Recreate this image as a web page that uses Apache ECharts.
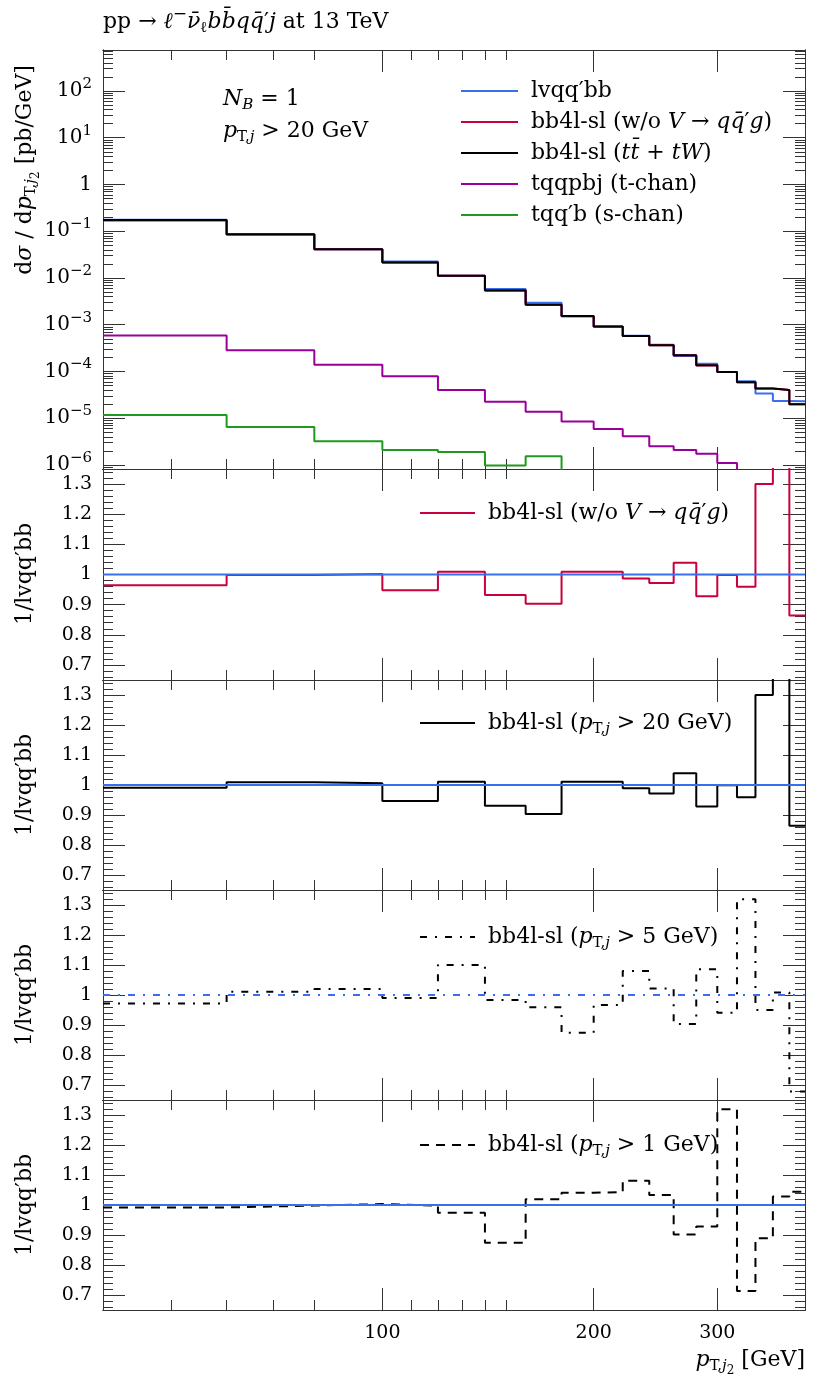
<!DOCTYPE html>
<html>
<head>
<meta charset="utf-8">
<script src="https://cdn.jsdelivr.net/npm/echarts@6.0.0/dist/echarts.min.js"></script>
<style>
html, body { margin: 0; padding: 0; background: #fff; }
#main { width: 830px; height: 1380px; }
</style>
</head>
<body>
<div id="main"></div>
<script>
// bin edges of the p_T,j2 histogram [GeV]
var binEdges = [40, 60, 80, 100, 120, 140, 160, 180, 200, 220, 240, 260, 280, 300, 320, 340, 360, 380, 400];

// top panel: dsigma/dpT [pb/GeV], one value per bin
var lvqqbb   = [0.1756, 0.0855, 0.0412, 0.0226, 0.0111, 0.0058, 0.00294, 0.00151, 0.00091, 0.000581, 0.000373, 0.000215, 0.000146, 9.8e-5, 6.15e-5, 3.4e-5, 2.34e-5, 2.3e-5];
var bb4lNoV  = [0.169, 0.0853, 0.0413, 0.0214, 0.0112, 0.0054, 0.00266, 0.00152, 0.00092, 0.000573, 0.000363, 0.000223, 0.000135, 9.8e-5, 5.9e-5, 4.3e-5, 4.0e-5, 2.0e-5];
var bb4lTtW  = [0.174, 0.0863, 0.0414, 0.0214, 0.0112, 0.0054, 0.00267, 0.00153, 0.00092, 0.000575, 0.000363, 0.000223, 0.000136, 9.8e-5, 5.9e-5, 4.3e-5, 4.0e-5, 2.0e-5];
var tChan    = [5.9e-4, 2.83e-4, 1.4e-4, 7.9e-5, 4.0e-5, 2.26e-5, 1.38e-5, 8.5e-6, 5.9e-6, 4.1e-6, 2.5e-6, 2.1e-6, 1.74e-6, 1.1e-6, 6e-7, 4e-7, 3e-7, 2e-7];
var sChan    = [1.17e-5, 6.5e-6, 3.2e-6, 2.1e-6, 1.9e-6, 9.7e-7, 1.54e-6, 5e-7, 4e-7, 3e-7, 2.5e-7, 2e-7, 1.8e-7, 1.5e-7, 1.2e-7, 1e-7, 9e-8, 8e-8];

// ratio panels (x / lvqq'bb)
var ratioNoV  = [0.964, 0.998, 1.002, 0.948, 1.009, 0.932, 0.903, 1.009, 1.009, 0.987, 0.972, 1.039, 0.928, 0.998, 0.959, 1.30, 1.60, 0.864];
var ratioPt20 = [0.991, 1.009, 1.006, 0.947, 1.011, 0.931, 0.903, 1.011, 1.011, 0.989, 0.972, 1.039, 0.928, 0.999, 0.959, 1.30, 1.70, 0.864];
var ratioPt5  = [0.972, 1.011, 1.02, 0.99, 1.10, 0.983, 0.959, 0.874, 0.967, 1.08, 1.022, 0.903, 1.086, 0.941, 1.319, 0.95, 1.008, 0.678];
var ratioPt1  = [0.992, 0.998, 1.003, 0.998, 0.974, 0.874, 1.019, 1.041, 1.043, 1.081, 1.033, 0.902, 0.928, 1.319, 0.713, 0.889, 1.028, 1.044];
var ratioRef  = [1, 1, 1, 1, 1, 1, 1, 1, 1, 1, 1, 1, 1, 1, 1, 1, 1, 1];

// ticks
var xMinorTicks = [50, 60, 70, 80, 110, 120, 130, 140, 150];
var xMajorTicks = [100, 200, 300];
var yDecades = [-6, -5, -4, -3, -2, -1, 0, 1, 2];
var ratioTicks = [0.7, 0.8, 0.9, 1, 1.1, 1.2, 1.3];

var Y_MIN = 8.2e-7, Y_MAX = 753;
var R_MIN = 0.65, R_MAX = 1.35;

var FONT = 'DejaVu Serif';
var TEXT = 22;
var BLUE = '#3a6ef0', RED = '#c8003c', PURPLE = '#990099', GREEN = '#1f9a1f';
var FRAME = '#333';

var panels = [
    {top: 50, height: 419},
    {top: 469, height: 211},
    {top: 680, height: 210},
    {top: 890, height: 210},
    {top: 1100, height: 210}
];

function rich(size) {
    var s = Math.round(size * 0.7);
    var base = {fontFamily: FONT, color: '#000', fill: '#000'};
    function st(extra) { return Object.assign({}, base, extra); }
    return {
        r: st({fontSize: size}),
        i: st({fontSize: size, fontStyle: 'italic'}),
        sub: st({fontSize: s, padding: [Math.round(size * 0.55), 0, 0, 0]}),
        subi: st({fontSize: s, fontStyle: 'italic', padding: [Math.round(size * 0.55), 0, 0, 0]}),
        sub2: st({fontSize: Math.round(size * 0.55), padding: [Math.round(size * 0.95), 0, 0, 0]}),
        sup: st({fontSize: Math.round(size * 0.75), padding: [0, 0, Math.round(size * 0.7), 0]}),
        w: {width: 8}
    };
}

function steps(values) {
    return binEdges.map(function (e, i) {
        return [e, values[Math.min(i, values.length - 1)]];
    });
}

var log10 = function (v) { return Math.log(v) / Math.LN10; };
var minorRatio = [];
for (var t = 66; t <= 134; t += 2) { if (t % 10 !== 0) minorRatio.push(t / 100); }
var minorLog = [];
yDecades.concat([-7]).forEach(function (d) {
    for (var k = 2; k <= 9; k++) {
        var v = d + log10(k);
        if (v > log10(Y_MIN) && v < log10(Y_MAX)) minorLog.push(v);
    }
});

var legendText = {
    'lvqq′bb': '{w| }{r|lvqq′bb}',
    'bb4l-sl (w/o V → qq̄′g)': '{w| }{r|bb4l-sl (w/o }{i|V}{r| → }{i|qq̄}{r|′}{i|g}{r|)}',
    'bb4l-sl (tt̄ + tW)': '{w| }{r|bb4l-sl (}{i|tt̄}{r| + }{i|tW}{r|)}',
    'tqqpbj (t-chan)': '{w| }{r|tqqpbj (t-chan)}',
    'tqq′b (s-chan)': '{w| }{r|tqq′b (s-chan)}',
    'bb4l-sl (pT,j > 20 GeV)': '{w| }{r|bb4l-sl (}{i|p}{sub|T,}{subi|j}{r| > 20 GeV)}',
    'bb4l-sl (pT,j > 5 GeV)': '{w| }{r|bb4l-sl (}{i|p}{sub|T,}{subi|j}{r| > 5 GeV)}',
    'bb4l-sl (pT,j > 1 GeV)': '{w| }{r|bb4l-sl (}{i|p}{sub|T,}{subi|j}{r| > 1 GeV)}'
};

var option = {
    animation: false,
    backgroundColor: '#fff',
    grid: [], xAxis: [], yAxis: [], series: [], legend: [], graphic: []
};

function tickAxis(kind, grid, pos, min, max, ticks, len, labels, fmt, size) {
    var ax = {
        type: 'value', gridIndex: grid, position: pos, min: min, max: max,
        axisLine: {show: true, onZero: false, lineStyle: {color: FRAME, width: 1}},
        axisTick: {show: true, inside: true, length: len, customValues: ticks, lineStyle: {color: FRAME, width: 1}},
        splitLine: {show: false},
        axisLabel: {show: false}
    };
    if (labels) {
        ax.axisLabel = {
            show: true, customValues: labels, formatter: fmt, margin: 11,
            fontFamily: FONT, fontSize: size, lineHeight: 24, color: '#000', rich: rich(size)
        };
    }
    (kind === 'x' ? option.xAxis : option.yAxis).push(ax);
    return (kind === 'x' ? option.xAxis : option.yAxis).length - 1;
}

var lxMin = log10(binEdges[0]), lxMax = log10(binEdges[binEdges.length - 1]);

panels.forEach(function (p, k) {
    option.grid.push({left: 103, right: 25, top: p.top, height: p.height, outerBoundsMode: 'none'});
    p.x = option.xAxis.length;
    option.xAxis.push({type: 'log', gridIndex: k, min: binEdges[0], max: binEdges[binEdges.length - 1], show: false});
    var last = k === panels.length - 1;
    tickAxis('x', k, 'bottom', lxMin, lxMax, xMinorTicks.map(log10), 10);
    tickAxis('x', k, 'bottom', lxMin, lxMax, xMajorTicks.map(log10), 22,
        last ? xMajorTicks.map(log10) : null,
        function (v) { return '{r|' + Math.round(Math.pow(10, v)) + '}'; }, 19);
    tickAxis('x', k, 'top', lxMin, lxMax, xMinorTicks.map(log10), 10);
    tickAxis('x', k, 'top', lxMin, lxMax, xMajorTicks.map(log10), 22);

    if (k === 0) {
        p.y = option.yAxis.length;
        option.yAxis.push({type: 'log', gridIndex: k, min: Y_MIN, max: Y_MAX, show: false});
        var a = log10(Y_MIN), b = log10(Y_MAX);
        tickAxis('y', k, 'left', a, b, yDecades, 22, yDecades, function (v) {
            if (v === 0) return '{r|1}';
            return '{r|10}{sup|' + (v < 0 ? '−' : '') + Math.abs(v) + '}';
        }, 20);
        tickAxis('y', k, 'left', a, b, minorLog, 10);
        tickAxis('y', k, 'right', a, b, yDecades, 22);
        tickAxis('y', k, 'right', a, b, minorLog, 10);
    } else {
        p.y = tickAxis('y', k, 'left', R_MIN, R_MAX, ratioTicks, 22, ratioTicks, function (v) {
            return '{r|' + (Math.round(v * 10) / 10) + '}';
        }, 19);
        tickAxis('y', k, 'left', R_MIN, R_MAX, minorRatio, 10);
        tickAxis('y', k, 'right', R_MIN, R_MAX, ratioTicks, 22);
        tickAxis('y', k, 'right', R_MIN, R_MAX, minorRatio, 10);
    }
});

function addLine(panel, name, values, color, type, z) {
    option.series.push({
        type: 'line', name: name, xAxisIndex: panels[panel].x, yAxisIndex: panels[panel].y,
        data: steps(values), step: 'end', symbol: 'none', clip: true, silent: true,
        lineStyle: {color: color, width: 2, type: type || 'solid'},
        itemStyle: {color: color}, z: z || 2
    });
}

var DASHDOT = [7, 8, 2, 8];
var DASHED = [9, 7];

addLine(0, 'lvqq′bb', lvqqbb, BLUE, 'solid', 2);
addLine(0, 'bb4l-sl (w/o V → qq̄′g)', bb4lNoV, RED, 'solid', 3);
addLine(0, 'bb4l-sl (tt̄ + tW)', bb4lTtW, '#000', 'solid', 4);
addLine(0, 'tqqpbj (t-chan)', tChan, PURPLE, 'solid', 3);
addLine(0, 'tqq′b (s-chan)', sChan, GREEN, 'solid', 3);

addLine(1, 'bb4l-sl (w/o V → qq̄′g)', ratioNoV, RED, 'solid', 2);
addLine(1, 'lvqq′bb', ratioRef, BLUE, 'solid', 3);
addLine(2, 'bb4l-sl (pT,j > 20 GeV)', ratioPt20, '#000', 'solid', 2);
addLine(2, 'lvqq′bb', ratioRef, BLUE, 'solid', 3);
addLine(3, 'bb4l-sl (pT,j > 5 GeV)', ratioPt5, '#000', DASHDOT, 2);
addLine(3, 'lvqq′bb (ref)', ratioRef, BLUE, DASHDOT, 3);
addLine(4, 'bb4l-sl (pT,j > 1 GeV)', ratioPt1, '#000', DASHED, 2);
addLine(4, 'lvqq′bb', ratioRef, BLUE, 'solid', 3);

function legendAt(names, left, centerY, itemWidth) {
    return {
        data: names, orient: 'vertical', left: left, top: centerY - 13, padding: 0,
        itemWidth: itemWidth, itemHeight: 14, itemGap: 5, selectedMode: false,
        itemStyle: {opacity: 0},
        textStyle: {fontFamily: FONT, fontSize: TEXT, lineHeight: 26, color: '#000', rich: rich(TEXT)},
        formatter: function (n) { return legendText[n]; }
    };
}

option.legend.push(legendAt(['lvqq′bb', 'bb4l-sl (w/o V → qq̄′g)', 'bb4l-sl (tt̄ + tW)', 'tqqpbj (t-chan)', 'tqq′b (s-chan)'], 460, 91, 57));
option.legend.push(legendAt(['bb4l-sl (w/o V → qq̄′g)'], 419, 513, 55));
option.legend.push(legendAt(['bb4l-sl (pT,j > 20 GeV)'], 419, 723, 55));
option.legend.push(legendAt(['bb4l-sl (pT,j > 5 GeV)'], 419, 937, 55));
option.legend.push(legendAt(['bb4l-sl (pT,j > 1 GeV)'], 419, 1145, 55));

function label(x, y, text, opts) {
    opts = opts || {};
    var size = opts.size || TEXT;
    option.graphic.push({
        type: 'text', x: x, y: y, rotation: opts.rotation || 0, silent: true, z: 10,
        style: {
            text: text, rich: rich(size), fontFamily: FONT, fontSize: size,
            fill: '#000', lineHeight: 28, align: opts.align || 'left', verticalAlign: 'middle'
        }
    });
}

label(103, 22, '{r|pp → }{i|ℓ}{sup|−}{i|ν̄}{sub|ℓ}{i|bb̄qq̄}{r|′}{i|j}{r| at 13 TeV}');
label(223, 99, '{i|N}{subi|B}{r| = 1}');
label(223, 131, '{i|p}{sub|T,}{subi|j}{r| > 20 GeV}');
label(25, 170, '{r|d}{i|σ}{r| / d}{i|p}{sub|T,}{subi|j}{sub2|2}{r| [pb/GeV]}', {rotation: Math.PI / 2, align: 'center'});
[574, 785, 995, 1205].forEach(function (cy) {
    label(25, cy, '{r|1/lvqq′bb}', {rotation: Math.PI / 2, align: 'center'});
});
label(805, 1360, '{i|p}{sub|T,}{subi|j}{sub2|2}{r| [GeV]}', {align: 'right'});

var myChart = echarts.init(document.getElementById('main'));
myChart.setOption(option);
</script>
</body>
</html>
